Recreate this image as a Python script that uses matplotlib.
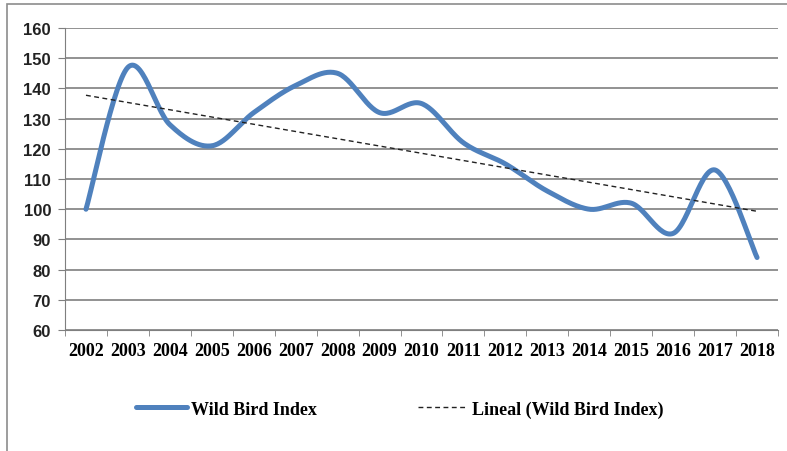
import numpy as np
import matplotlib.pyplot as plt
from matplotlib.patches import Rectangle

years = ['2002', '2003', '2004', '2005', '2006', '2007', '2008', '2009', '2010',
         '2011', '2012', '2013', '2014', '2015', '2016', '2017', '2018']
wild_bird_index = [100, 147, 128, 121, 132, 141, 145, 132, 135,
                   122, 115, 106, 100, 102, 92, 113, 84]


def smooth(x, y, n=30):
    # excel-style smoothed line (bezier through points, tension 1/6)
    x = np.asarray(x, float)
    y = np.asarray(y, float)
    px = np.concatenate([[x[0]], x, [x[-1]]])
    py = np.concatenate([[y[0]], y, [y[-1]]])
    xs, ys = [], []
    t = np.linspace(0, 1, n)
    for i in range(1, len(px) - 2):
        p0 = np.array([px[i], py[i]])
        p3 = np.array([px[i + 1], py[i + 1]])
        c1 = p0 + (p3 - np.array([px[i - 1], py[i - 1]])) / 6
        c2 = p3 - (np.array([px[i + 2], py[i + 2]]) - p0) / 6
        b = ((1 - t) ** 3)[:, None] * p0 + (3 * (1 - t) ** 2 * t)[:, None] * c1 \
            + (3 * (1 - t) * t ** 2)[:, None] * c2 + (t ** 3)[:, None] * p3
        xs.extend(b[:, 0])
        ys.extend(b[:, 1])
    return np.array(xs), np.array(ys)


x = np.arange(len(years))
fig = plt.figure(figsize=(7.87, 4.52), dpi=100)
ax = fig.add_axes([0.0826, 0.2677, 0.906, 0.668])

# outer chart border (top and left visible)
fig.patches.append(Rectangle((7 / 787, -0.1), 1.2, 1.1 - 5 / 452, transform=fig.transFigure,
                             fill=False, edgecolor='#8c8c8c', linewidth=1.2))

sx, sy = smooth(x, wild_bird_index)
ax.plot(sx, sy, color='#4F81BD', linewidth=3.6, solid_capstyle='round', label='Wild Bird Index', zorder=3)

coef = np.polyfit(x, wild_bird_index, 1)
ax.plot(x, np.polyval(coef, x), color='#222222', linestyle=(0, (3.5, 2.5)), linewidth=1.0,
        label='Lineal (Wild Bird Index)', zorder=4)

ax.set_xlim(-0.5, len(years) - 0.5)
ax.set_ylim(60, 160)
ax.set_yticks(range(60, 161, 10))
ax.yaxis.grid(True, color='#7f7f7f', linewidth=1.2)
ax.set_axisbelow(True)

ax.set_xticks(x)
ax.set_xticklabels(years, fontfamily='Liberation Serif', fontweight='bold', fontsize=13)
ax.set_xticks(np.arange(-0.5, len(years)), minor=True)
ax.tick_params(axis='x', which='major', length=0, pad=9)
ax.tick_params(axis='x', which='minor', length=4, color='#7f7f7f')
ax.tick_params(axis='y', length=5, color='#7f7f7f', pad=5)
for lab in ax.get_yticklabels():
    lab.set_fontfamily('Liberation Sans')
    lab.set_fontweight('bold')
    lab.set_fontsize(12)
    lab.set_color('#222222')

for s in ['top', 'right']:
    ax.spines[s].set_visible(False)
ax.spines['left'].set_color('#7f7f7f')
ax.spines['bottom'].set_color('#7f7f7f')

fig.legend(loc='center', bbox_to_anchor=(0.508, 0.093), ncol=2, frameon=False,
           prop={'family': 'Liberation Serif', 'weight': 'bold', 'size': 13},
           handlelength=2.8, columnspacing=5.6, handletextpad=0.2)

fig.savefig('out.png', dpi=100)
